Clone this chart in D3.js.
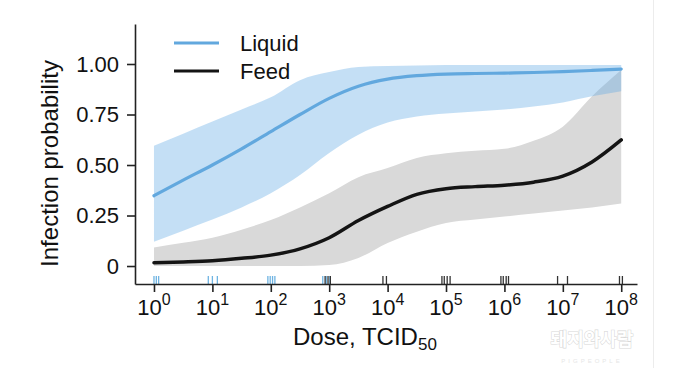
<!DOCTYPE html>
<html>
<head>
<meta charset="utf-8">
<script src="https://cdn.jsdelivr.net/npm/d3@7"></script>
<style>
  html, body { margin: 0; padding: 0; background: #fff; }
  svg { display: block; font-family: "Liberation Sans", Arial, Helvetica, sans-serif; }
</style>
</head>
<body>
<svg id="chart" width="680" height="368"></svg>
<script>
// ---- data (dose given as log10 TCID50) ----
const doseExp = [0, 0.5, 1, 1.5, 2, 2.5, 3, 3.5, 4, 4.5, 5, 5.5, 6, 6.5, 7, 7.5, 8];

const liquidMean  = [0.348, 0.425, 0.50, 0.58, 0.665, 0.75, 0.83, 0.89, 0.925, 0.942, 0.95, 0.953, 0.955, 0.958, 0.962, 0.968, 0.975];
const liquidUpper = [0.595, 0.655, 0.715, 0.775, 0.835, 0.92, 0.96, 0.985, 0.99, 0.993, 0.995, 0.995, 0.995, 0.995, 0.995, 0.995, 0.995];
const liquidLower = [0.12, 0.175, 0.23, 0.29, 0.36, 0.45, 0.56, 0.65, 0.71, 0.74, 0.755, 0.765, 0.775, 0.79, 0.81, 0.84, 0.865];

const feedMean  = [0.016, 0.02, 0.026, 0.038, 0.054, 0.085, 0.14, 0.225, 0.295, 0.355, 0.383, 0.393, 0.40, 0.415, 0.445, 0.515, 0.624];
const feedUpper = [0.092, 0.115, 0.14, 0.18, 0.228, 0.29, 0.36, 0.44, 0.485, 0.535, 0.558, 0.57, 0.58, 0.62, 0.69, 0.84, 0.97];
const feedLower = [0, 0, 0, 0, 0, 0, 0.005, 0.04, 0.114, 0.17, 0.213, 0.23, 0.245, 0.26, 0.275, 0.29, 0.31];

// rug: observed doses (log10)
const liquidRug = [0.0, 0.04, 0.08, 0.93, 1.0, 1.085, 1.95, 1.99, 2.03, 2.07, 2.89, 2.95, 3.01];
const feedRug   = [2.93, 2.98, 3.02, 3.92, 3.98, 4.93, 4.97, 5.02, 5.07, 5.94, 5.98, 6.03, 6.07, 6.91, 7.08, 7.97, 8.02];

const yTicks = [0, 0.25, 0.5, 0.75, 1];
const xTicks = [0, 1, 2, 3, 4, 5, 6, 7, 8];
const seriesNames = ["Liquid", "Feed"];

// ---- drawing ----
const svg = d3.select("#chart");
const x = d3.scaleLinear().domain([-0.325, 8.27]).range([135, 637]);
const y = d3.scaleLinear().domain([-0.089, 1.198]).range([284, 24]);

const BLUE_LINE = "#62a8de";
const BLUE_BAND = "rgba(100,172,228,0.38)";
const GRAY_BAND = "#d9d9d9";
const DARK = "#141414";
const TXT = "#111";

// faint page edge line
svg.append("line").attr("x1", 653.5).attr("x2", 653.5).attr("y1", 0).attr("y2", 368)
  .attr("stroke", "#ececec").attr("stroke-width", 1);

const rows = (lo, hi) => doseExp.map((d, i) => ({ d, lo: lo[i], hi: hi[i] }));
const area = d3.area().x(p => x(p.d)).y0(p => y(p.lo)).y1(p => y(p.hi)).curve(d3.curveMonotoneX);
const line = d3.line().x(p => x(p.d)).y(p => y(p.v)).curve(d3.curveMonotoneX);

svg.append("path").datum(rows(feedLower, feedUpper)).attr("d", area).attr("fill", GRAY_BAND);
svg.append("path").datum(rows(liquidLower, liquidUpper)).attr("d", area).attr("fill", BLUE_BAND);

svg.append("path").datum(doseExp.map((d, i) => ({ d, v: feedMean[i] })))
  .attr("d", line).attr("fill", "none").attr("stroke", DARK).attr("stroke-width", 3.5).attr("stroke-linecap", "round");
svg.append("path").datum(doseExp.map((d, i) => ({ d, v: liquidMean[i] })))
  .attr("d", line).attr("fill", "none").attr("stroke", BLUE_LINE).attr("stroke-width", 3.2).attr("stroke-linecap", "round");

// rug
svg.append("g").selectAll("line").data(liquidRug).join("line")
  .attr("x1", d => x(d)).attr("x2", d => x(d)).attr("y1", 276).attr("y2", 284)
  .attr("stroke", "#6fb4e2").attr("stroke-width", 1.3);
svg.append("g").selectAll("line").data(feedRug).join("line")
  .attr("x1", d => x(d)).attr("x2", d => x(d)).attr("y1", 276).attr("y2", 284)
  .attr("stroke", "#333").attr("stroke-width", 1.3);

// axes
const yAxis = svg.append("g").attr("transform", "translate(135,0)")
  .call(d3.axisLeft(y).tickValues(yTicks).tickSize(8).tickSizeOuter(0).tickPadding(8)
    .tickFormat(d => d === 0 ? "0" : d3.format(".2f")(d)));
yAxis.selectAll("text").attr("font-size", 22).attr("fill", TXT).attr("font-family", "Liberation Sans, Arial, sans-serif");

const xAxis = svg.append("g").attr("transform", "translate(0,284)")
  .call(d3.axisBottom(x).tickValues(xTicks).tickSize(8).tickSizeOuter(0).tickFormat(""));
[yAxis, xAxis].forEach(g => {
  g.select(".domain").attr("stroke", "#222").attr("stroke-width", 1.6);
  g.selectAll(".tick line").attr("stroke", "#222").attr("stroke-width", 1.6);
});

const xl = svg.append("g").selectAll("text").data(xTicks).join("text")
  .attr("x", d => x(d)).attr("y", 315).attr("text-anchor", "middle")
  .attr("font-size", 22).attr("fill", TXT);
xl.append("tspan").text("10");
xl.append("tspan").attr("dy", -10).attr("font-size", 16).text(d => d);

// axis titles
svg.append("text").attr("transform", "translate(58,163.5) rotate(-90)").attr("text-anchor", "middle")
  .attr("font-size", 24).attr("fill", TXT).text("Infection probability");
const xt = svg.append("text").attr("x", 293).attr("y", 345).attr("font-size", 24).attr("fill", TXT);
xt.append("tspan").text("Dose, TCID");
xt.append("tspan").attr("dy", 5).attr("font-size", 17).text("50");

// legend
const legendColors = [BLUE_LINE, DARK];
const legendY = [43, 71];
const lg = svg.append("g").selectAll("g").data(seriesNames).join("g");
lg.append("line").attr("x1", 174).attr("x2", 219).attr("y1", (d, i) => legendY[i]).attr("y2", (d, i) => legendY[i])
  .attr("stroke", (d, i) => legendColors[i]).attr("stroke-width", 3.2);
lg.append("text").attr("x", 240).attr("y", (d, i) => legendY[i] + 8).attr("font-size", 22).attr("fill", TXT).text(d => d);

// watermark
svg.append("text").attr("x", 592).attr("y", 346).attr("text-anchor", "middle")
  .attr("font-family", "Noto Sans CJK KR").attr("font-size", 18).attr("font-weight", 700)
  .attr("fill", "#fff").attr("stroke", "#d8d8d8").attr("stroke-width", 1.1).attr("paint-order", "stroke")
  .text("돼지와사람");
svg.append("text").attr("x", 592).attr("y", 363).attr("text-anchor", "middle")
  .attr("font-size", 6).attr("letter-spacing", 3).attr("fill", "#e6e6e6").text("PIGPEOPLE");
</script>
</body>
</html>
